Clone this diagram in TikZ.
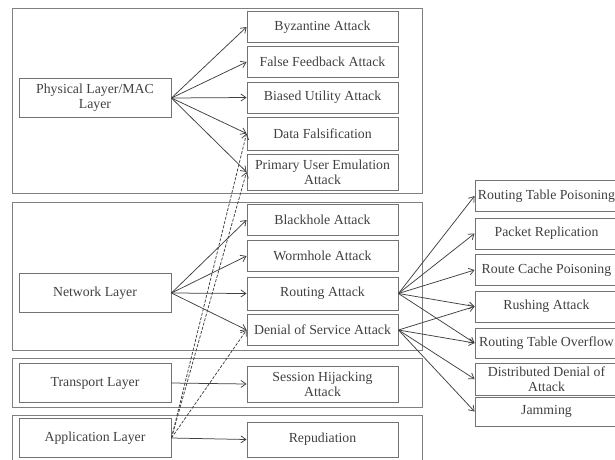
\documentclass[tikz,border=0pt]{standalone}
\usepackage{fontspec}
\setmainfont{Liberation Serif}
\usetikzlibrary{arrows.meta}
\begin{document}
\begin{tikzpicture}[x=1pt,y=-1pt]

    \tikzset{
      layerbox/.style={
        draw=black!55,
        line width=0.9pt,
        text=black!75,
        align=center,
        inner sep=1pt,
        minimum width=152pt,
        minimum height=39pt,
        font=\fontsize{13.8}{15}\selectfont,
      },
      atkbox/.style={
        layerbox,
        minimum width=151pt,
        minimum height=31pt,
      },
      subbox/.style={
        layerbox,
        minimum width=143pt,
        minimum height=31pt,
      },
      grp/.style={draw=black!50, line width=0.9pt},
      link/.style={draw=black!75, line width=0.75pt, -{Straight Barb[length=5pt,width=7pt]}},
      dlink/.style={link, dash pattern=on 3pt off 1.5pt},
    }
    \useasboundingbox (0,0) rectangle (615,459);
    % layer groups
	\draw[grp] (12,8) rectangle (422,193);
	\draw[grp] (12,202) rectangle (422,350);
	\draw[grp] (12,358) rectangle (422,407);
	\draw[grp] (12,415) rectangle (422,470);
    % layers
	\node[layerbox] (phy) at (95,98) {Physical Layer/MAC\\Layer};
	\node[layerbox] (net) at (95,293) {Network Layer};
	\node[layerbox] (tra) at (95,383) {Transport Layer};
	\node[layerbox] (app) at (95,438) {Application Layer};
    % attacks
	\node[atkbox] (byz) at (322.5,27) {Byzantine Attack};
	\node[atkbox] (ffa) at (322.5,62) {False Feedback Attack};
	\node[atkbox] (bua) at (322.5,97.5) {Biased Utility Attack};
	\node[atkbox,minimum height=33pt] (daf) at (322.5,133.5) {Data Falsification};
	\node[atkbox,minimum height=36pt] (pue) at (322.5,172) {Primary User Emulation\\Attack};
	\node[atkbox] (blk) at (322.5,220) {Blackhole Attack};
	\node[atkbox] (wor) at (322.5,256) {Wormhole Attack};
	\node[atkbox,minimum height=33pt] (rou) at (322.5,293.5) {Routing Attack};
	\node[atkbox] (dos) at (322.5,330) {Denial of Service Attack};
	\node[atkbox,minimum height=36pt] (ses) at (322.5,384) {Session Hijacking\\Attack};
	\node[atkbox,minimum height=35pt] (rep) at (322.5,439.5) {Repudiation};
    % routing / dos sub attacks
	\node[subbox] (rtp) at (546.5,196) {Routing Table Poisoning};
	\node[subbox] (prp) at (546.5,233.5) {Packet Replication};
	\node[subbox] (rcp) at (546.5,270) {Route Cache Poisoning};
	\node[subbox] (rus) at (546.5,306.5) {Rushing Attack};
	\node[subbox,minimum height=30pt] (rto) at (546.5,343) {Routing Table Overflow};
	\node[subbox,minimum height=32pt] (dds) at (546.5,379) {Distributed Denial of\\Attack};
	\node[subbox,minimum height=29pt] (jam) at (546.5,411.5) {Jamming};
    % links
	\foreach \t in {byz,ffa,bua,daf,pue}
	  \draw[link] (phy.east) -- (\t.west);
	\foreach \t in {blk,wor,rou,dos}
	  \draw[link] (net.east) -- (\t.west);
	\draw[link] (tra.east) -- (ses.west);
	\draw[link] (app.east) -- (rep.west);
	\foreach \t in {daf,pue,dos}
	  \draw[dlink] (app.east) -- (\t.west);
	\foreach \t in {rtp,prp,rcp,rus,rto}
	  \draw[link] (rou.east) -- (\t.west);
	\foreach \t in {rus,rto,dds,jam}
	  \draw[link] (dos.east) -- (\t.west);

\end{tikzpicture}
\end{document}
